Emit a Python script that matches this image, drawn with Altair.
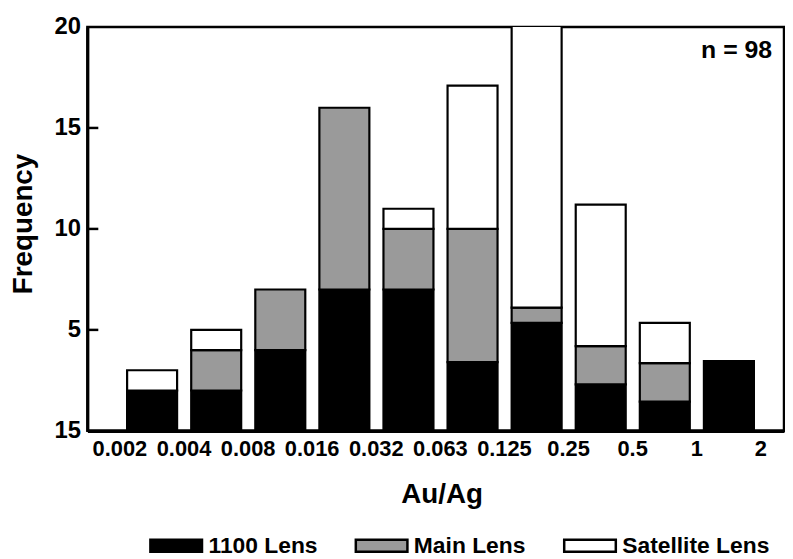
import json
import altair as alt
import pandas as pd

# ---- data ----
edge_labels = ["0.002", "0.004", "0.008", "0.016", "0.032", "0.063",
               "0.125", "0.25", "0.5", "1", "2"]
lens_1100 = [2, 2, 4, 7, 7, 3.4, 5.35, 2.3, 1.45, 3.45]
main_lens = [0, 2, 3, 9, 3, 6.6, 0.75, 1.9, 1.9, 0]
satellite_lens = [1, 1, 0, 0, 1, 7.1, 14.5, 7.0, 2.0, 0]
series_names = ["1100 Lens", "Main Lens", "Satellite Lens"]
series_colors = ["#000000", "#9a9a9a", "#ffffff"]
y_ticks = [0, 5, 10, 15, 20]
y_tick_text = ["15", "5", "10", "15", "20"]
inner_ticks = [5, 10, 15]
n_label = "n = 98"

FONT = "Liberation Sans"

rows = []
for i in range(len(lens_1100)):
    base = 0.0
    for k, vals in enumerate([lens_1100, main_lens, satellite_lens]):
        v = vals[i]
        if v > 0:
            rows.append(dict(bin=i, x0=i + 0.12, x1=i + 0.9, y0=base, y1=base + v,
                             series=series_names[k], order=k))
        base += v
df = pd.DataFrame(rows)

x_scale = alt.Scale(domain=[-0.5, 10.37], nice=False, zero=False)
y_scale = alt.Scale(domain=[0, 20], nice=False, zero=True)

x_label_expr = f"{json.dumps(edge_labels)}[datum.value]"
y_label_expr = f"{json.dumps(y_tick_text)}[indexof({json.dumps(y_ticks)}, datum.value)]"

y_axis = alt.Axis(values=y_ticks, labelExpr=y_label_expr, title="Frequency",
                  ticks=False, domain=True, domainWidth=3, domainColor="black",
                  labelFontSize=24, labelPadding=7, grid=False,
                  titleFontSize=28, titleAngle=270, titleX=-64, titleY=198,
                  titleAlign="center", titleBaseline="middle")

bars = alt.Chart(df).mark_bar(stroke="black", strokeWidth=2.2, clip=True).encode(
    x=alt.X("x0:Q", scale=x_scale,
            axis=alt.Axis(values=list(range(len(edge_labels))), labelExpr=x_label_expr,
                          title="Au/Ag", ticks=False, domain=True, domainWidth=3.5,
                          domainColor="black", labelFontSize=22, labelPadding=8,
                          labelFlush=False, labelOverlap=False, grid=False,
                          titleFontSize=28, titleX=357, titleY=72,
                          titleAlign="center", titleBaseline="alphabetic")),
    x2="x1:Q",
    y=alt.Y("y0:Q", scale=y_scale, axis=y_axis),
    y2="y1:Q",
    color=alt.Color("series:N",
                    scale=alt.Scale(domain=series_names, range=series_colors),
                    legend=alt.Legend(orient="none", legendX=62, legendY=495,
                                      direction="horizontal", columns=3, title=None,
                                      symbolType="M-1,-0.23H1V0.23H-1Z", symbolSize=2704,
                                      symbolStrokeColor="black", symbolStrokeWidth=2.5,
                                      symbolOpacity=1,
                                      labelFontSize=23, labelFont=FONT,
                                      labelFontWeight="bold", labelColor="black",
                                      labelOffset=5, columnPadding=33, padding=0)),
    order=alt.Order("order:Q"),
)

ticks_df = pd.DataFrame({"v": inner_ticks})
rules = alt.Chart(ticks_df).mark_rule(color="black", strokeWidth=2.5).encode(
    y=alt.Y("v:Q", scale=y_scale, axis=y_axis),
    x=alt.value(0),
    x2=alt.value(11),
)

txt = alt.Chart(pd.DataFrame({"t": [n_label]})).mark_text(
    align="right", baseline="middle", fontSize=25, font=FONT, fontWeight="bold",
    color="black"
).encode(x=alt.value(690), y=alt.value(23), text="t:N")

chart = alt.layer(bars, rules, txt).properties(
    width=702, height=407,
    padding={"left": 80, "top": 17, "right": 1, "bottom": 127},
    autosize="none",
    background="white",
).configure_view(
    stroke="black", strokeWidth=2.5
).configure_axis(
    labelFont=FONT, labelFontWeight="bold", labelColor="black",
    titleFont=FONT, titleFontWeight="bold", titleColor="black",
)

chart.save("out.html", embed_options={"renderer": "svg", "actions": False})
